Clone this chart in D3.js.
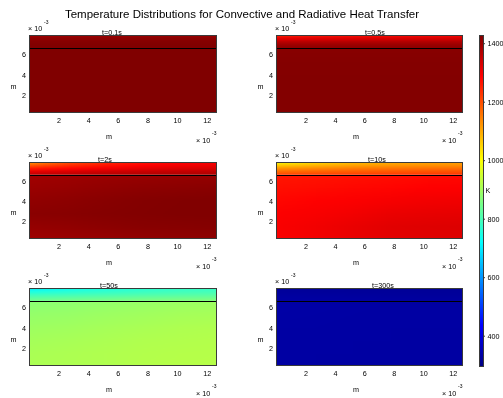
<!DOCTYPE html>
<html>
<head>
<meta charset="utf-8">
<script src="https://cdn.jsdelivr.net/npm/d3@7"></script>
<style>
  body { margin: 0; background: #fff; }
  svg { display: block; }
  text { font-family: "Liberation Sans", Arial, Helvetica, sans-serif; fill: #000; filter: grayscale(1); }
</style>
</head>
<body>
<svg id="fig" width="503" height="398"></svg>
<script>
// ---- data -------------------------------------------------------------
const mainTitle = "Temperature Distributions for Convective and Radiative Heat Transfer";
const panelTitles = ["t=0.1s", "t=0.5s", "t=2s", "t=10s", "t=50s", "t=300s"];

// grid nodes (units of 1e-3 m)
const xNodes = [0, 2.54, 5.08, 7.62, 10.16, 12.7];
const coatNodes = [7.62, 7.3, 6.99, 6.67, 6.35];      // coating layer, top to interface
const baseNodes = [6.35, 5.08, 3.81, 2.54, 1.27, 0];  // substrate, interface to bottom
const interfaceY = 6.35;
const xExtent = [0, 12.7];
const yExtent = [0, 7.62];

// temperatures (K), rows follow coatNodes / baseNodes, columns follow xNodes
const coat_01 = [
  [1385, 1389, 1391, 1393, 1394, 1395],
  [1410, 1411, 1412, 1413, 1414, 1414],
  [1420, 1420, 1421, 1421, 1422, 1422],
  [1424, 1424, 1424, 1425, 1425, 1425],
  [1426, 1426, 1426, 1426, 1426, 1426]];
const base_01 = [
  [1427, 1427, 1427, 1427, 1427, 1427],
  [1427, 1427, 1427, 1427, 1427, 1427],
  [1427, 1427, 1427, 1427, 1427, 1427],
  [1427, 1427, 1427, 1427, 1427, 1427],
  [1427, 1427, 1427, 1427, 1427, 1427],
  [1427, 1427, 1427, 1427, 1427, 1427]];

const coat_05 = [
  [1245, 1258, 1266, 1272, 1276, 1278],
  [1312, 1318, 1322, 1326, 1328, 1330],
  [1362, 1365, 1368, 1370, 1372, 1373],
  [1394, 1395, 1396, 1397, 1398, 1398],
  [1412, 1412, 1413, 1413, 1413, 1414]];
const base_05 = [
  [1418, 1418, 1419, 1419, 1419, 1419],
  [1422, 1422, 1422, 1422, 1422, 1422],
  [1423, 1423, 1423, 1423, 1423, 1423],
  [1424, 1424, 1424, 1424, 1424, 1424],
  [1424, 1424, 1424, 1424, 1424, 1424],
  [1424, 1424, 1424, 1424, 1424, 1424]];

const coat_2 = [
  [1110, 1195, 1238, 1265, 1285, 1295],
  [1185, 1235, 1265, 1285, 1300, 1308],
  [1255, 1280, 1300, 1315, 1325, 1330],
  [1315, 1330, 1342, 1350, 1355, 1358],
  [1368, 1370, 1374, 1377, 1380, 1382]];
const base_2 = [
  [1390, 1394, 1398, 1401, 1403, 1404],
  [1398, 1403, 1409, 1413, 1415, 1417],
  [1408, 1413, 1419, 1423, 1425, 1426],
  [1416, 1419, 1422, 1424, 1426, 1426],
  [1404, 1409, 1414, 1418, 1420, 1422],
  [1392, 1396, 1400, 1405, 1408, 1410]];

const coat_10 = [
  [990, 1040, 1070, 1090, 1100, 1105],
  [1060, 1085, 1105, 1118, 1125, 1128],
  [1120, 1135, 1148, 1157, 1162, 1165],
  [1170, 1178, 1186, 1192, 1196, 1198],
  [1215, 1218, 1221, 1225, 1228, 1230]];
const base_10 = [
  [1262, 1265, 1268, 1272, 1275, 1277],
  [1270, 1274, 1278, 1282, 1286, 1288],
  [1280, 1285, 1290, 1295, 1300, 1302],
  [1288, 1293, 1300, 1308, 1312, 1314],
  [1292, 1300, 1310, 1318, 1322, 1324],
  [1290, 1298, 1308, 1316, 1320, 1322]];

const coat_50 = [
  [700, 730, 750, 765, 775, 780],
  [745, 760, 772, 782, 790, 793],
  [785, 792, 800, 807, 812, 815],
  [818, 823, 829, 835, 839, 841],
  [848, 853, 858, 863, 867, 869]];
const base_50 = [
  [872, 877, 882, 887, 891, 893],
  [884, 888, 893, 898, 902, 904],
  [894, 898, 903, 908, 912, 914],
  [902, 906, 910, 914, 917, 919],
  [908, 911, 914, 918, 920, 921],
  [910, 912, 915, 919, 921, 922]];

const coat_300 = [
  [322, 322, 321, 320, 319, 319],
  [325, 324, 323, 322, 321, 321],
  [328, 327, 326, 325, 324, 324],
  [331, 330, 329, 328, 327, 327],
  [334, 333, 332, 331, 330, 330]];
const base_300 = [
  [337, 336, 335, 334, 333, 333],
  [336, 335, 334, 333, 332, 332],
  [334, 334, 333, 332, 332, 332],
  [333, 333, 332, 332, 331, 331],
  [332, 332, 332, 331, 331, 331],
  [332, 332, 331, 331, 331, 331]];

const coatFields = [coat_01, coat_05, coat_2, coat_10, coat_50, coat_300];
const baseFields = [base_01, base_05, base_2, base_10, base_50, base_300];

const xTicks = [2, 4, 6, 8, 10, 12];
const yTicks = [2, 4, 6];
const cbTicks = [400, 600, 800, 1000, 1200, 1400];
const tempRange = [293, 1428];

// ---- layout -------------------------------------------------------------
const colLeft = [29, 276], colRight = [217, 463];
const rowTop = [35, 162, 288], rowBottom = [113, 239, 366];
const titleCenters = [112, 375, 105, 377, 109, 383];
const cbBox = { x0: 479, x1: 484, y0: 35, y1: 367 };
const small = "7.2px";

// jet colormap
function jet(t) {
  const c = v => Math.max(0, Math.min(1, v));
  return d3.rgb(255 * c(1.5 - Math.abs(4 * t - 3)),
                255 * c(1.5 - Math.abs(4 * t - 2)),
                255 * c(1.5 - Math.abs(4 * t - 1))).toString();
}
const color = d3.scaleSequential(jet).domain(tempRange).clamp(true);

const svg = d3.select("#fig");
const defs = svg.append("defs");

svg.append("text")
  .attr("x", 242).attr("y", 14).attr("dy", "0.35em")
  .attr("text-anchor", "middle")
  .style("font-size", "11.5px")
  .text(mainTitle);

// field rendered as a small bitmap, stretched smoothly over the grid nodes
function fieldURL(rows) {
  const cv = document.createElement("canvas");
  cv.width = rows[0].length; cv.height = rows.length;
  const ctx = cv.getContext("2d");
  rows.forEach((row, j) => row.forEach((v, i) => {
    ctx.fillStyle = color(v);
    ctx.fillRect(i, j, 1, 1);
  }));
  return cv.toDataURL();
}

function drawField(g, id, rows, ys, x, y) {
  const dx = x(xNodes[1]) - x(xNodes[0]);
  const dy = y(ys[1]) - y(ys[0]);
  const top = y(ys[0]), bot = y(ys[ys.length - 1]);
  defs.append("clipPath").attr("id", id)
    .append("rect")
    .attr("x", x(xExtent[0])).attr("y", top)
    .attr("width", x(xExtent[1]) - x(xExtent[0])).attr("height", bot - top);
  g.append("image")
    .attr("href", fieldURL(rows))
    .attr("preserveAspectRatio", "none")
    .attr("x", x(xNodes[0]) - dx / 2)
    .attr("y", top - dy / 2)
    .attr("width", dx * xNodes.length)
    .attr("height", dy * ys.length)
    .attr("clip-path", `url(#${id})`);
}

panelTitles.forEach((title, i) => {
  const c = i % 2, r = Math.floor(i / 2);
  const L = colLeft[c], R = colRight[c], T = rowTop[r], B = rowBottom[r];
  const x = d3.scaleLinear().domain(xExtent).range([L, R]);
  const y = d3.scaleLinear().domain(yExtent).range([B, T]);
  const g = svg.append("g");

  drawField(g, `coat${i}`, coatFields[i], coatNodes, x, y);
  drawField(g, `base${i}`, baseFields[i], baseNodes, x, y);

  // coating / substrate interface
  g.append("line")
    .attr("x1", x(xExtent[0])).attr("x2", x(xExtent[1]))
    .attr("y1", Math.round(y(interfaceY)) + 0.5).attr("y2", Math.round(y(interfaceY)) + 0.5)
    .attr("stroke", "#000").attr("stroke-width", 1);

  // axes box
  g.append("rect")
    .attr("x", L + 0.5).attr("y", T + 0.5)
    .attr("width", R - L - 1).attr("height", B - T - 1)
    .attr("fill", "none").attr("stroke", "#3a3a3a").attr("stroke-width", 1);

  // x axis
  const gx = g.append("g").attr("transform", `translate(0,${B})`)
    .call(d3.axisBottom(x).tickValues(xTicks).tickSize(0).tickFormat(d3.format("d")));
  gx.select(".domain").remove();
  gx.selectAll(".tick line").remove();
  gx.selectAll("text").attr("y", 7.5).attr("dy", "0.35em")
    .style("font-size", small).style("font-family", null).attr("fill", "#000");

  // y axis
  const gy = g.append("g").attr("transform", `translate(${L},0)`)
    .call(d3.axisLeft(y).tickValues(yTicks).tickSize(0).tickFormat(d3.format("d")));
  gy.select(".domain").remove();
  gy.selectAll(".tick line").remove();
  gy.selectAll("text").attr("x", -3).attr("y", 2.5).attr("dy", "0.35em")
    .style("font-size", small).style("font-family", null).attr("fill", "#000");

  // axis labels
  g.append("text").attr("x", L + 80).attr("y", B + 23).attr("dy", "0.35em")
    .attr("text-anchor", "middle").style("font-size", small).text("m");
  g.append("text").attr("x", L - 15.5).attr("y", (T + B) / 2 + 12).attr("dy", "0.35em")
    .attr("text-anchor", "middle").style("font-size", small).text("m");

  // exponent markers
  g.append("text").attr("x", R - 21).attr("y", B + 27).attr("dy", "0.35em")
    .style("font-size", small).text("\u00d7 10");
  g.append("text").attr("x", R - 5).attr("y", B + 20).attr("dy", "0.35em")
    .style("font-size", "5px").text("-3");
  g.append("text").attr("x", L - 1).attr("y", T - 6.5).attr("dy", "0.35em")
    .style("font-size", small).text("\u00d7 10");
  g.append("text").attr("x", L + 15).attr("y", T - 13).attr("dy", "0.35em")
    .style("font-size", "5px").text("-3");

  // panel title
  g.append("text").attr("x", titleCenters[i]).attr("y", T - 2.5).attr("dy", "0.35em")
    .attr("text-anchor", "middle").style("font-size", small).text(title);
});

// ---- colorbar -------------------------------------------------------------
const cy = d3.scaleLinear().domain(tempRange).range([cbBox.y1, cbBox.y0]);
const grad = defs.append("linearGradient").attr("id", "jetbar")
  .attr("x1", 0).attr("y1", 1).attr("x2", 0).attr("y2", 0);
d3.range(0, 1.0001, 1 / 40).forEach(t => {
  grad.append("stop").attr("offset", t)
    .attr("stop-color", color(tempRange[0] + t * (tempRange[1] - tempRange[0])));
});
svg.append("rect")
  .attr("x", cbBox.x0).attr("y", cbBox.y0)
  .attr("width", cbBox.x1 - cbBox.x0).attr("height", cbBox.y1 - cbBox.y0)
  .attr("fill", "url(#jetbar)");
svg.append("rect")
  .attr("x", cbBox.x0 + 0.5).attr("y", cbBox.y0 + 0.5)
  .attr("width", cbBox.x1 - cbBox.x0 - 1).attr("height", cbBox.y1 - cbBox.y0 - 1)
  .attr("fill", "none").attr("stroke", "#3a3a3a").attr("stroke-width", 1);

const gc = svg.append("g").attr("transform", `translate(${cbBox.x1},0)`)
  .call(d3.axisRight(cy).tickValues(cbTicks).tickSize(2).tickPadding(1.5).tickFormat(d3.format("d")));
gc.select(".domain").remove();
gc.selectAll(".tick line").attr("stroke", "#3a3a3a").attr("transform", "translate(-1,0)");
gc.selectAll("text").attr("dy", "0.35em")
  .style("font-size", small).style("font-family", null).attr("fill", "#000");

svg.append("text").attr("x", 488).attr("y", 190).attr("dy", "0.35em")
  .attr("text-anchor", "middle").style("font-size", small).text("K");
</script>
</body>
</html>
